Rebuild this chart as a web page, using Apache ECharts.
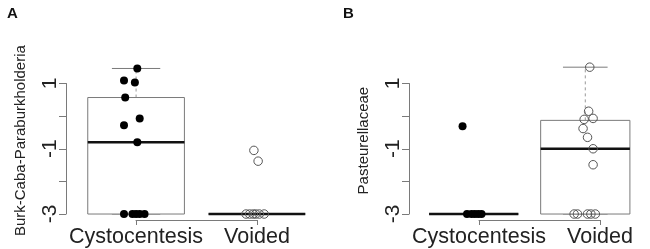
<!DOCTYPE html>
<html>
<head>
<meta charset="utf-8">
<script src="https://cdn.jsdelivr.net/npm/echarts@6/dist/echarts.min.js"></script>
<style>
  html, body { margin: 0; padding: 0; background: #fff; }
  #chart { width: 650px; height: 249px; }
</style>
</head>
<body>
<div id="chart"></div>
<script>
// groups and y tick labels
var groups = ['Cystocentesis', 'Voided'];
var yTicks = [-3, -1, 1];

// box statistics, one entry per group
var boxA_min = [-3, -3];
var boxA_q1  = [-3, -3];
var boxA_med = [-0.8, -3];
var boxA_q3  = [0.57, -3];
var boxA_max = [1.46, -3];

var boxB_min = [-3, -3];
var boxB_q1  = [-3, -3];
var boxB_med = [-3, -1.0];
var boxB_q3  = [-3, -0.13];
var boxB_max = [-3, 1.5];

// jittered points (jit = horizontal offset from group centre)
var cystA_y   = [1.46, 1.09, 1.03, 0.57, -0.07, -0.28, -0.8, -3, -3, -3, -3, -3];
var cystA_jit = [0.01, -0.10, -0.01, -0.09, 0.03, -0.10, 0.01, -0.10, -0.03, 0, 0.03, 0.07];
var voidA_y   = [-1.05, -1.38, -3, -3, -3, -3, -3, -3];
var voidA_jit = [-0.025, 0.01, -0.09, -0.06, -0.03, -0.01, 0.02, 0.06];

var cystB_y   = [-0.31, -3, -3, -3, -3, -3];
var cystB_jit = [-0.10, -0.06, -0.02, 0.01, 0.04, 0.07];
var voidB_y   = [1.5, 0.15, -0.1, -0.07, -0.38, -0.65, -1.0, -1.49, -3, -3, -3, -3, -3];
var voidB_jit = [0.04, 0.03, -0.01, 0.07, -0.02, 0.02, 0.07, 0.07, -0.10, -0.07, 0.02, 0.05, 0.09];

var FONT = 'Liberation Sans';
var LINE = '#7a7a7a';

function boxRows(mn, q1, md, q3, mx) {
    return groups.map(function (g, i) {
        return [i + 1, mn[i], q1[i], md[i], q3[i], mx[i]];
    });
}

function pts(group, ys, jit) {
    return ys.map(function (y, i) {
        return [group + jit[i], y];
    });
}

function renderBox(params, api) {
    var x = api.value(0);
    var cx = api.coord([x, 0])[0];
    var left = api.coord([x - 0.4, 0])[0];
    var right = api.coord([x + 0.4, 0])[0];
    var capL = api.coord([x - 0.2, 0])[0];
    var capR = api.coord([x + 0.2, 0])[0];
    var yMin = api.coord([x, api.value(1)])[1];
    var yQ1 = api.coord([x, api.value(2)])[1];
    var yMed = api.coord([x, api.value(3)])[1];
    var yQ3 = api.coord([x, api.value(4)])[1];
    var yMax = api.coord([x, api.value(5)])[1];
    var thin = { stroke: LINE, lineWidth: 1 };
    return {
        type: 'group',
        children: [
            { type: 'line', shape: { x1: cx, y1: yQ3, x2: cx, y2: yMax },
              style: { stroke: '#999', lineWidth: 1, lineDash: [3, 3] } },
            { type: 'line', shape: { x1: cx, y1: yQ1, x2: cx, y2: yMin },
              style: { stroke: '#999', lineWidth: 1, lineDash: [3, 3] } },
            { type: 'line', shape: { x1: capL, y1: yMax, x2: capR, y2: yMax }, style: thin },
            { type: 'line', shape: { x1: capL, y1: yMin, x2: capR, y2: yMin }, style: thin },
            { type: 'rect', shape: { x: left, y: yQ3, width: right - left, height: yQ1 - yQ3 },
              style: { fill: '#fff', stroke: LINE, lineWidth: 1 } },
            { type: 'line', shape: { x1: left, y1: yMed, x2: right, y2: yMed },
              style: { stroke: '#111', lineWidth: 2.5 } }
        ]
    };
}

var panels = [
    { left: 66, name: 'Burk-Caba-Paraburkholderia',
      box: boxRows(boxA_min, boxA_q1, boxA_med, boxA_q3, boxA_max),
      cyst: pts(1, cystA_y, cystA_jit), vd: pts(2, voidA_y, voidA_jit) },
    { left: 409, name: 'Pasteurellaceae',
      box: boxRows(boxB_min, boxB_q1, boxB_med, boxB_q3, boxB_max),
      cyst: pts(1, cystB_y, cystB_jit), vd: pts(2, voidB_y, voidB_jit) }
];

var grid = [], xAxis = [], yAxis = [], series = [];

panels.forEach(function (p, k) {
    var g = k * 3;
    // data area, tick axis on the left, tick axis at the bottom
    grid.push({ left: p.left, top: 61.3, width: 261, height: 158.6 });
    grid.push({ left: p.left, top: 83.5, width: 1, height: 130.5 });
    grid.push({ left: p.left + 70, top: 219, width: 121, height: 1 });

    xAxis.push({ gridIndex: g, type: 'value', min: 0.42, max: 2.58, show: false });
    yAxis.push({
        gridIndex: g, type: 'value', min: -3.18, max: 1.68,
        axisLine: { show: false }, axisTick: { show: false },
        axisLabel: { show: false }, splitLine: { show: false },
        name: p.name, nameLocation: 'middle', nameRotate: 90, nameGap: 38,
        nameTextStyle: { fontFamily: FONT, fontSize: 15, color: '#222' }
    });

    xAxis.push({ gridIndex: g + 1, type: 'value', show: false });
    yAxis.push({
        gridIndex: g + 1, type: 'value', min: -3, max: 1, interval: 1,
        axisLine: { show: true, lineStyle: { color: LINE, width: 1 } },
        axisTick: { show: true, length: 7, lineStyle: { color: LINE } },
        splitLine: { show: false },
        axisLabel: {
            rotate: 90, margin: 5, fontFamily: FONT, fontSize: 21, color: '#222',
            formatter: function (v) { return yTicks.indexOf(v) >= 0 ? String(v) : ''; }
        }
    });

    xAxis.push({
        gridIndex: g + 2, type: 'value', min: 1, max: 2, interval: 1,
        axisLine: { show: true, lineStyle: { color: LINE, width: 1 } },
        axisTick: { show: true, length: 5, lineStyle: { color: LINE } },
        splitLine: { show: false },
        axisLabel: {
            margin: 6, fontFamily: FONT, fontSize: 21.5, color: '#222',
            formatter: function (v) { return groups[v - 1] || ''; }
        }
    });
    yAxis.push({ gridIndex: g + 2, type: 'value', show: false });

    series.push({
        type: 'custom', xAxisIndex: g, yAxisIndex: g, clip: false,
        renderItem: renderBox, data: p.box, silent: true, z: 1
    });
    series.push({
        type: 'scatter', xAxisIndex: g, yAxisIndex: g, data: p.cyst,
        symbol: 'circle', symbolSize: 8, silent: true, z: 3,
        itemStyle: { color: '#000', opacity: 1 }
    });
    series.push({
        type: 'scatter', xAxisIndex: g, yAxisIndex: g, data: p.vd,
        symbol: 'circle', symbolSize: 8.5, silent: true, z: 3,
        itemStyle: { color: 'transparent', borderColor: '#555', borderWidth: 1, opacity: 1 }
    });
});

var chart = echarts.init(document.getElementById('chart'), null, { renderer: 'canvas' });
chart.setOption({
    animation: false,
    backgroundColor: '#fff',
    title: [
        { text: 'A', left: 2, top: 1, textStyle: { fontFamily: FONT, fontSize: 15, fontWeight: 'bold', color: '#111' } },
        { text: 'B', left: 338, top: 1, textStyle: { fontFamily: FONT, fontSize: 15, fontWeight: 'bold', color: '#111' } }
    ],
    grid: grid,
    xAxis: xAxis,
    yAxis: yAxis,
    series: series
});
</script>
</body>
</html>
